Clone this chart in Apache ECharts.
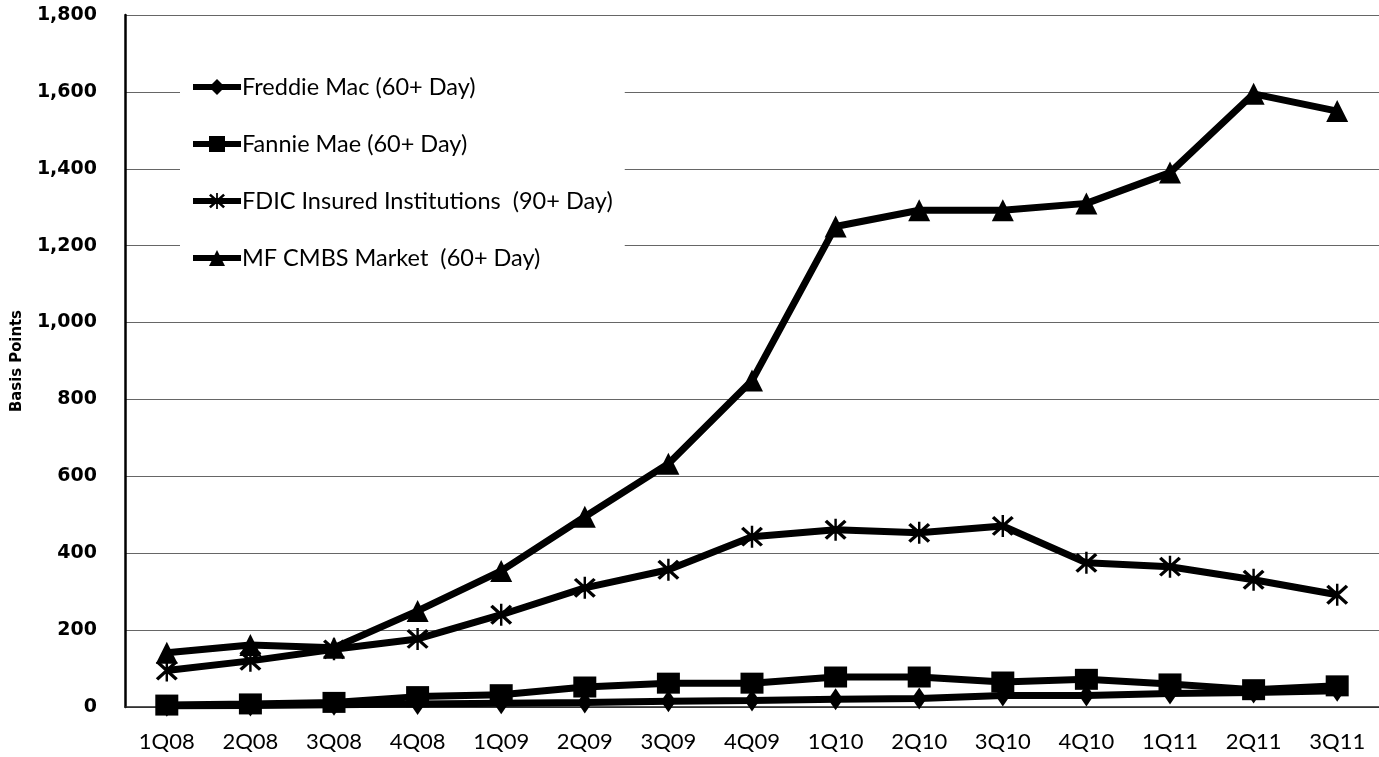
<!DOCTYPE html>
<html>
<head>
<meta charset="utf-8">
<script src="https://cdn.jsdelivr.net/npm/echarts@6/dist/echarts.min.js"></script>
<style>
html,body{margin:0;padding:0;background:#fff;}
#chart{width:1379px;height:757px;}
</style>
</head>
<body>
<div id="chart"></div>
<script>
var categories = ['1Q08','2Q08','3Q08','4Q08','1Q09','2Q09','3Q09','4Q09','1Q10','2Q10','3Q10','4Q10','1Q11','2Q11','3Q11'];
var freddieMac = [3, 4, 6, 8, 10, 12, 15, 17, 20, 22, 30, 30, 35, 38, 42];
var fannieMae = [5, 8, 12, 27, 32, 52, 62, 62, 78, 78, 65, 72, 60, 45, 55];
var fdic = [95, 120, 150, 177, 240, 310, 357, 443, 461, 453, 471, 375, 365, 331, 292];
var mfCmbs = [141, 161, 154, 250, 354, 495, 633, 849, 1250, 1292, 1292, 1310, 1390, 1595, 1550];
var yTicks = [0, 200, 400, 600, 800, 1000, 1200, 1400, 1600, 1800];

var asterisk = 'path://M9 0 L11 0 L11 20 L9 20 Z M1 3 L3 1 L19 17 L17 19 Z M17 1 L19 3 L3 19 L1 17 Z';

var chart = echarts.init(document.getElementById('chart'));
function mk(name, data, symbol, size) {
  return {
    name: name, type: 'line', data: data,
    symbol: symbol, symbolSize: size,
    showSymbol: true,
    lineStyle: {color: '#000', width: 7},
    itemStyle: {color: '#000'},
    emphasis: {disabled: true},
    animation: false
  };
}
chart.setOption({
  animation: false,
  grid: {left: 125, right: -8, top: 15, bottom: 50, containLabel: false},
  legend: {
    orient: 'vertical', left: 180, top: 61,
    padding: [14, 12, 14, 10],
    backgroundColor: '#fff',
    itemWidth: 48, itemHeight: 20, itemGap: 33,
    lineStyle: {width: 6, color: '#000'},
    itemStyle: {color: '#000'},
    textStyle: {fontFamily: 'Lato', fontSize: 23.5, color: '#000', lineHeight: 24, padding: [0,0,0,-4]},
    data: ['Freddie Mac (60+ Day)', 'Fannie Mae (60+ Day)', 'FDIC Insured Institutions  (90+ Day)', 'MF CMBS Market  (60+ Day)']
  },
  xAxis: {
    type: 'category', data: categories, boundaryGap: true,
    axisLine: {lineStyle: {color: '#222', width: 1.5}},
    axisTick: {show: false},
    axisLabel: {fontFamily: 'Lato', fontSize: 22, color: '#000', margin: 24}
  },
  yAxis: {
    type: 'value', min: 0, max: 1800, interval: 200,
    name: 'Basis Points', nameLocation: 'middle', nameGap: 100, nameRotate: 90,
    nameTextStyle: {fontFamily: "'DejaVu Sans Condensed', 'Liberation Sans', sans-serif", fontWeight: 'bold', fontSize: 16.5, color: '#000'},
    axisLine: {show: true, lineStyle: {color: '#000', width: 2.5}},
    axisTick: {show: false},
    axisLabel: {fontFamily: 'DejaVu Sans', fontWeight: 'bold', fontSize: 19, color: '#000', margin: 28,
      formatter: function (v) { return yTicks.indexOf(v) >= 0 ? v.toLocaleString('en-US') : ''; }},
    splitLine: {lineStyle: {color: '#666', width: 1.2}}
  },
  series: [
    mk('Freddie Mac (60+ Day)', freddieMac, 'diamond', [15, 22]),
    mk('Fannie Mae (60+ Day)', fannieMae, 'rect', [23, 21]),
    mk('FDIC Insured Institutions  (90+ Day)', fdic, asterisk, 22),
    mk('MF CMBS Market  (60+ Day)', mfCmbs, 'triangle', 22)
  ]
});
</script>
</body>
</html>
